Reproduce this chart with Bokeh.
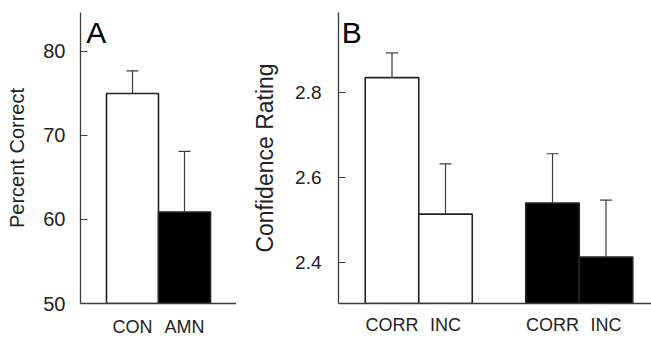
from bokeh.plotting import figure
from bokeh.layouts import row
from bokeh.models import (Range1d, FixedTicker, Whisker, TeeHead, ColumnDataSource, Label)
from bokeh.embed import file_html
from bokeh.resources import INLINE

# ---- data: panel A ----
a_groups = ["CON", "AMN"]
a_pos = [1, 2]
a_values = [75.0, 60.9]
a_errors = [2.7, 7.2]
a_colors = ["white", "black"]
a_yticks = [50, 60, 70, 80]

# ---- data: panel B ----
b_groups = ["CORR", "INC", "CORR", "INC"]
b_pos = [1, 2, 4, 5]
b_values = [2.835, 2.514, 2.540, 2.413]
b_errors = [0.058, 0.118, 0.116, 0.134]
b_colors = ["white", "white", "black", "black"]
b_yticks = [2.4, 2.6, 2.8]

FONT = "Liberation Sans"
INK = "#222222"
AX = "#3c3c3c"


def panel(groups, pos, values, errors, colors, yticks, xr, yr, ylabel, letter,
          letter_xy, width, border_left, border_bottom, tick_fs, label_fs,
          tick_standoff, label_standoff, x_standoff):
    p = figure(width=width, height=339, output_backend="svg", toolbar_location=None,
               x_range=Range1d(*xr), y_range=Range1d(*yr),
               min_border_left=border_left, min_border_right=0,
               min_border_top=12, min_border_bottom=border_bottom)
    p.outline_line_color = None
    p.xgrid.visible = False
    p.ygrid.visible = False
    p.background_fill_color = "white"
    p.border_fill_color = "white"

    base = yr[0]
    src = ColumnDataSource(dict(
        x=pos, top=values, color=colors,
        lower=values, upper=[v + e for v, e in zip(values, errors)],
        base=[base] * len(pos)))

    wh = Whisker(base="x", lower="lower", upper="upper", source=src,
                 line_color=AX, line_width=1.2,
                 upper_head=TeeHead(size=12, line_color=AX, line_width=1.2),
                 lower_head=None, level="glyph")
    p.add_layout(wh)

    p.vbar(x="x", top="top", bottom="base", width=1.0, source=src,
           fill_color="color", line_color=INK, line_width=1.6)

    p.xaxis.ticker = FixedTicker(ticks=pos)
    p.xaxis.major_label_overrides = {x: g for x, g in zip(pos, groups)}
    p.xaxis.axis_line_color = AX
    p.xaxis.axis_line_width = 1.3
    p.xaxis.major_tick_out = 0
    p.xaxis.major_tick_in = 0
    p.xaxis.minor_tick_line_color = None
    p.xaxis.major_label_text_font = FONT
    p.xaxis.major_label_text_font_size = "18px"
    p.xaxis.major_label_text_color = INK
    p.xaxis.major_label_standoff = x_standoff

    p.yaxis.ticker = FixedTicker(ticks=yticks)
    p.yaxis.axis_line_color = AX
    p.yaxis.axis_line_width = 1.3
    p.yaxis.major_tick_in = 7
    p.yaxis.major_tick_out = 0
    p.yaxis.major_tick_line_color = AX
    p.yaxis.major_tick_line_width = 1.2
    p.yaxis.minor_tick_line_color = None
    p.yaxis.major_label_text_font = FONT
    p.yaxis.major_label_text_font_size = tick_fs
    p.yaxis.major_label_text_color = INK
    p.yaxis.major_label_standoff = tick_standoff
    p.yaxis.axis_label = ylabel
    p.yaxis.axis_label_text_font = FONT
    p.yaxis.axis_label_text_font_style = "normal"
    p.yaxis.axis_label_text_font_size = label_fs
    p.yaxis.axis_label_text_color = INK
    p.yaxis.axis_label_standoff = label_standoff

    p.add_layout(Label(x=letter_xy[0], y=letter_xy[1], text=letter,
                       text_font=FONT, text_font_size="30px", text_color="black",
                       text_baseline="alphabetic"))
    return p


pa = panel(a_groups, a_pos, a_values, a_errors, a_colors, a_yticks,
           (0, 3.0), (50, 84.64), "Percent Correct", "A", (0.11, 82.2),
           width=236, border_left=80, border_bottom=36, tick_fs="20px",
           label_fs="20px", tick_standoff=15, label_standoff=12, x_standoff=13)

pb = panel(b_groups, b_pos, b_values, b_errors, b_colors, b_yticks,
           (0, 5.85), (2.304, 2.988), "Confidence Rating", "B", (0.06, 2.94),
           width=415, border_left=102, border_bottom=34, tick_fs="19px",
           label_fs="23px", tick_standoff=17, label_standoff=14, x_standoff=11)

layout = row(pa, pb, spacing=0)

with open("out.html", "w") as f:
    f.write(file_html(layout, INLINE))
